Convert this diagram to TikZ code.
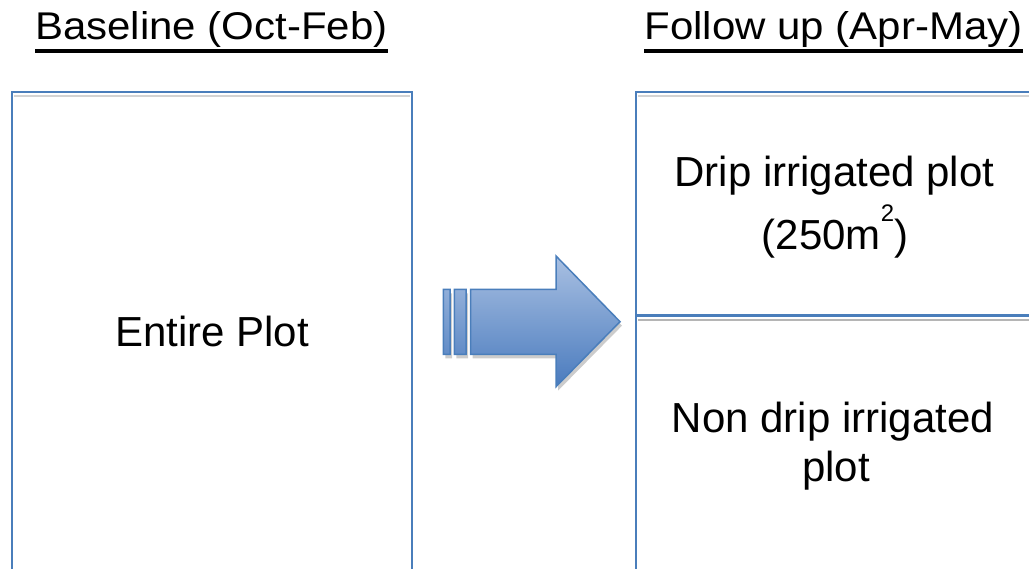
\documentclass[tikz,border=0pt]{standalone}
\usepackage{fontspec}
\setmainfont{Liberation Sans}
\definecolor{bblue}{HTML}{4A7EBB}
\definecolor{arrtop}{HTML}{A9C0E2}
\definecolor{arrbot}{HTML}{4A7BBE}
\definecolor{shadeA}{HTML}{D3D3D3}
\definecolor{shadeB}{HTML}{B5B5B5}
\begin{document}
\begin{tikzpicture}[x=1pt,y=1pt,
  plotbox/.style={draw=bblue, line width=2.4pt, fill=white, inner sep=0pt, outer sep=0pt, anchor=north west},
  innerline/.style={line width=2pt},
  lbl/.style={anchor=base, inner sep=0pt, outer sep=0pt, font=\fontsize{42}{48}\selectfont},
  uline/.style={line width=3.3pt},
  arrowbody/.style={top color=arrtop, bottom color=arrbot, draw=bblue, line width=1.5pt, line join=miter},
  arrowshadow/.style={fill=black!20}
]
\useasboundingbox (0,0) rectangle (1029,569);
\begin{scope}
\clip (0,0) rectangle (1029,569);
% boxes
\node[plotbox, minimum width=400pt, minimum height=478.7pt] (entire) at (12,476.7) {};
\node[plotbox, minimum width=397pt, minimum height=223.4pt] (drip) at (636,476.7) {};
\node[plotbox, minimum width=397pt, minimum height=259.3pt] (nondrip) at (636,253.3) {};
\draw[innerline, shadeA] ([shift={(2,-4)}]entire.north west) -- ([shift={(-2,-4)}]entire.north east);
\draw[innerline, shadeA] ([shift={(2,-4)}]drip.north west) -- ([shift={(-2,-4)}]drip.north east);
\draw[innerline, shadeB] ([shift={(2,-4.5)}]nondrip.north west) -- ([shift={(-2,-4.5)}]nondrip.north east);
\end{scope}
% titles
\node[lbl] (t1) at (211.5,529) {\scalebox{1}[0.92]{Baseline (Oct-Feb)}};
\node[lbl] (t2) at (833.5,529) {\scalebox{1}[0.92]{Follow up (Apr-May)}};
\draw[uline] ([yshift=-11pt]t1.base west) -- ([yshift=-11pt]t1.base east);
\draw[uline] ([yshift=-11pt]t2.base west) -- ([yshift=-11pt]t2.base east);
% box texts
\node[lbl] (e1) at (212,222.3) {Entire Plot};
\node[lbl] (d1) at (834.5,382.3) {Drip irrigated plot};
\node[lbl] (d2) at (835,319) {(250m\raisebox{28pt}{\scalebox{0.57}{2}})};
\node[lbl] (n1) at (833,136) {Non drip irrigated};
\node[lbl] (n2) at (836,87) {plot};
% block arrow
\fill[arrowshadow, shift={(2,-4)}]
  (443.3,279.7) rectangle (450,214.7)
  (454.3,279.7) rectangle (466,214.7)
  (470.7,279.7) -- (556,279.7) -- (556,313) -- (620,247.3) -- (556,182.3) -- (556,214.7) -- (470.7,214.7) -- cycle;
\path[arrowbody]
  (443.3,279.7) rectangle (450,214.7)
  (454.3,279.7) rectangle (466,214.7)
  (470.7,279.7) -- (556,279.7) -- (556,313) -- (620,247.3) -- (556,182.3) -- (556,214.7) -- (470.7,214.7) -- cycle;
\end{tikzpicture}
\end{document}
